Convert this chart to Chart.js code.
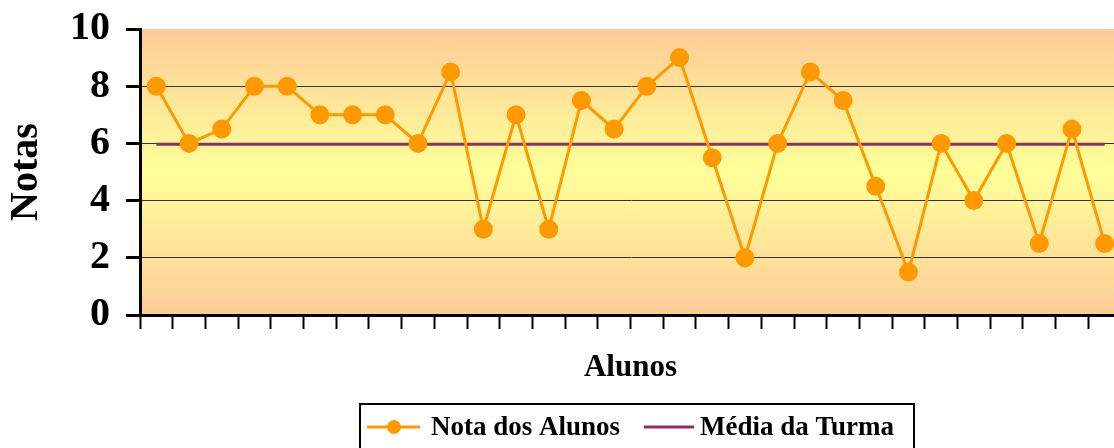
<!DOCTYPE html>
<html>
<head>
<meta charset="utf-8">
<script src="https://cdn.jsdelivr.net/npm/chart.js@4.4.1/dist/chart.umd.min.js"></script>
<style>
  html, body { margin: 0; padding: 0; background: #fff; overflow: hidden; }
  canvas { display: block; }
</style>
</head>
<body>
<canvas id="grafico" width="1121" height="448"></canvas>
<script>
// Alunos da turma (um por categoria, rótulos não exibidos)
const alunos = ['1','2','3','4','5','6','7','8','9','10','11','12','13','14','15',
                '16','17','18','19','20','21','22','23','24','25','26','27','28','29','30'];

// Nota de cada aluno
const notas = [8, 6, 6.5, 8, 8, 7, 7, 7, 6, 8.5, 3, 7, 3, 7.5, 6.5,
               8, 9, 5.5, 2, 6, 8.5, 7.5, 4.5, 1.5, 6, 4, 6, 2.5, 6.5, 2.5];

// Média da turma, repetida ao longo de todos os alunos
const media = [5.97, 5.97, 5.97, 5.97, 5.97, 5.97, 5.97, 5.97, 5.97, 5.97,
               5.97, 5.97, 5.97, 5.97, 5.97, 5.97, 5.97, 5.97, 5.97, 5.97,
               5.97, 5.97, 5.97, 5.97, 5.97, 5.97, 5.97, 5.97, 5.97, 5.97];

// Marcas do eixo das notas
const marcasNotas = [0, 2, 4, 6, 8, 10];

const SERIF = "'Liberation Serif', 'Times New Roman', serif";

// Fundo da área de plotagem: laranja nas bordas, amarelo no centro
const fundoGradiente = {
  id: 'fundoGradiente',
  beforeDraw(chart) {
    const { ctx, chartArea: a } = chart;
    ctx.save();
    ctx.fillStyle = '#fff';
    ctx.fillRect(0, 0, chart.width, chart.height);
    const g = ctx.createLinearGradient(0, a.top, 0, a.bottom);
    g.addColorStop(0, '#FDCC99');
    g.addColorStop(0.5, '#FFFF99');
    g.addColorStop(1, '#FDCC99');
    ctx.fillStyle = g;
    ctx.fillRect(a.left, a.top, a.right - a.left, a.bottom - a.top);
    ctx.restore();
  }
};

// Legenda emoldurada abaixo do gráfico
const legendaCaixa = {
  id: 'legendaCaixa',
  afterDraw(chart) {
    const ctx = chart.ctx;
    const ds = chart.data.datasets;
    const cy = 427;
    ctx.save();
    ctx.strokeStyle = '#000';
    ctx.lineWidth = 2;
    ctx.strokeRect(360, 404, 554, 60);

    ctx.font = 'bold 27px ' + SERIF;
    ctx.textBaseline = 'middle';
    ctx.fillStyle = '#000';

    // Série das notas: linha com marcador
    ctx.strokeStyle = ds[0].borderColor;
    ctx.lineWidth = 3;
    ctx.beginPath(); ctx.moveTo(367, cy); ctx.lineTo(420, cy); ctx.stroke();
    ctx.fillStyle = ds[0].pointBackgroundColor;
    ctx.beginPath(); ctx.arc(394, cy, 7, 0, Math.PI * 2); ctx.fill();
    ctx.fillStyle = '#000';
    ctx.fillText(ds[0].label, 431, cy + 1);

    // Série da média: só a linha
    ctx.strokeStyle = ds[1].borderColor;
    ctx.lineWidth = 3;
    ctx.beginPath(); ctx.moveTo(644, cy); ctx.lineTo(694, cy); ctx.stroke();
    ctx.fillText(ds[1].label, 700, cy + 1);
    ctx.restore();
  }
};

new Chart(document.getElementById('grafico'), {
  type: 'line',
  data: {
    labels: alunos,
    datasets: [
      {
        label: 'Nota dos Alunos',
        data: notas,
        borderColor: '#FF9900',
        backgroundColor: '#FF9900',
        pointBackgroundColor: '#FF9900',
        pointBorderColor: '#FF9900',
        borderWidth: 3,
        pointRadius: 8,
        pointHoverRadius: 8,
        tension: 0,
        clip: false,
        order: 0
      },
      {
        label: 'Média da Turma',
        data: media,
        borderColor: '#8A3262',
        backgroundColor: '#8A3262',
        borderWidth: 3,
        pointRadius: 0,
        tension: 0,
        order: 1
      }
    ]
  },
  options: {
    responsive: false,
    animation: false,
    layout: { autoPadding: false, padding: { top: 29, left: 0, right: 0, bottom: 0 } },
    plugins: {
      legend: { display: false },
      tooltip: { enabled: false }
    },
    scales: {
      x: {
        offset: true,
        afterFit(scale) { scale.height = 133; scale.paddingRight = 0; scale.paddingLeft = 0; },
        ticks: { display: false },
        grid: {
          offset: true,
          drawOnChartArea: false,
          drawTicks: true,
          tickLength: 14,
          tickColor: '#000',
          tickWidth: 2
        },
        border: { display: true, color: '#000', width: 3 },
        title: {
          display: true,
          text: 'Alunos',
          color: '#000',
          font: { family: SERIF, size: 31, weight: 'bold' },
          padding: { top: 0, bottom: 61 }
        }
      },
      y: {
        min: 0,
        max: 10,
        afterFit(scale) { scale.width = 140; scale.paddingTop = 0; scale.paddingBottom = 0; },
        afterBuildTicks(scale) { scale.ticks = marcasNotas.map(v => ({ value: v })); },
        ticks: {
          color: '#000',
          padding: 16,
          font: { family: SERIF, size: 40, weight: 'bold' }
        },
        grid: {
          color: ctx => (ctx.tick && (ctx.tick.value === 0 || ctx.tick.value === 10)) ? 'rgba(0,0,0,0)' : '#333',
          lineWidth: 1,
          drawTicks: true,
          tickLength: 14,
          tickColor: '#000',
          tickWidth: 3
        },
        border: { display: true, color: '#000', width: 3 },
        title: {
          display: true,
          text: 'Notas',
          color: '#000',
          font: { family: SERIF, size: 40, weight: 'bold' },
          padding: { top: 3, bottom: 0 }
        }
      }
    }
  },
  plugins: [fundoGradiente, legendaCaixa]
});
</script>
</body>
</html>
